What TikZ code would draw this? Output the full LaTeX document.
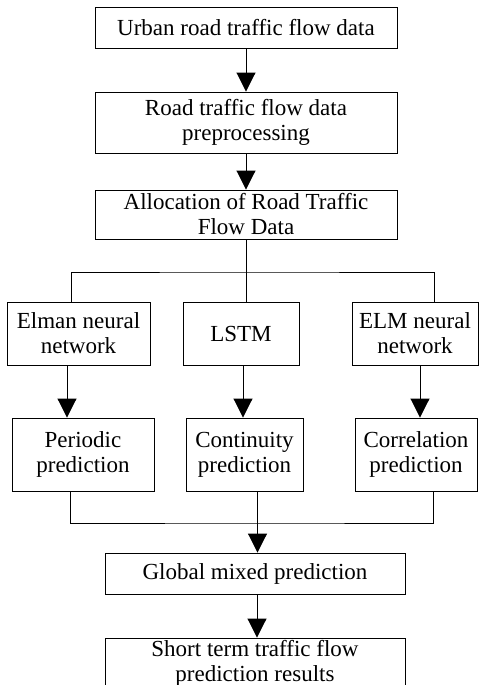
\documentclass[tikz,border=0pt]{standalone}
\usepackage{fontspec}
\setmainfont{Liberation Serif}
\usepackage{tikz}
\usetikzlibrary{arrows.meta}
\tikzset{
    box/.style={draw=black, line width=0.9pt, inner sep=0pt, align=center, font=\fontsize{23}{25}\selectfont},
    link/.style={draw=black, line width=0.9pt},
    flow/.style={link, -{Triangle[length=19pt, width=19pt]}}
}

\begin{document}
\begin{tikzpicture}[x=1pt, y=-1pt]
    \useasboundingbox (0,0) rectangle (480,685);
    % upper chain
    \node[box, minimum width=302pt, minimum height=41pt] (urban) at (246,27.5) {Urban road traffic flow data};
    \node[box, minimum width=302pt, minimum height=61pt] (prep) at (246,122.5) {Road traffic flow data\\preprocessing};
    \node[box, minimum width=302pt, minimum height=49pt] (alloc) at (246,214.5) {Allocation of Road Traffic\\Flow Data};
    % three models
    \node[box, minimum width=143pt, minimum height=63pt] (elman) at (78.5,333.5) {Elman neural\\network};
    \node[box, minimum width=116pt, minimum height=63pt] (lstm) at (241,333.5) {LSTM};
    \node[box, minimum width=126pt, minimum height=63pt] (elm) at (415,333.5) {ELM neural\\network};
    % three predictions
    \node[box, minimum width=142pt, minimum height=73pt] (periodic) at (83,454.5) {Periodic\\prediction};
    \node[box, minimum width=117pt, minimum height=73pt] (continuity) at (244.5,454.5) {Continuity\\prediction};
    \node[box, minimum width=122pt, minimum height=73pt] (correlation) at (416,454.5) {Correlation\\prediction};
    % lower chain
    \node[box, minimum width=300pt, minimum height=41pt] (global) at (255,573.5) {Global mixed prediction};
    \node[box, minimum width=300pt, minimum height=50pt] (result) at (255,663) {Short term traffic flow\\prediction results};

    \coordinate (busT) at (246,272);
    \coordinate (busB) at (257.5,523);

    \draw[flow] (urban) -- (prep);
    \draw[flow] (prep) -- (alloc);
    \draw[link] (alloc.south) -- (busT);
    \draw[link] ([xshift=-7.5pt]elman.north) |- (busT) -| ([xshift=19pt]elm.north);
    \draw[link] (busT) -- ([xshift=5pt]lstm.north);

    \draw[flow] ([xshift=-11.5pt]elman.south) -- ([xshift=-16pt]periodic.north);
    \draw[flow] ([xshift=2pt]lstm.south) -- ([xshift=-1.5pt]continuity.north);
    \draw[flow] ([xshift=5pt]elm.south) -- ([xshift=4pt]correlation.north);

    \draw[link] ([xshift=-13pt]periodic.south) |- (busB) -| ([xshift=17pt]correlation.south);
    \draw[link] ([xshift=13pt]continuity.south) -- (busB);
    \draw[flow] (busB) -- ([xshift=2.5pt]global.north);
    \draw[flow] ([xshift=2pt]global.south) -- ([xshift=2pt]result.north);
\end{tikzpicture}
\end{document}
